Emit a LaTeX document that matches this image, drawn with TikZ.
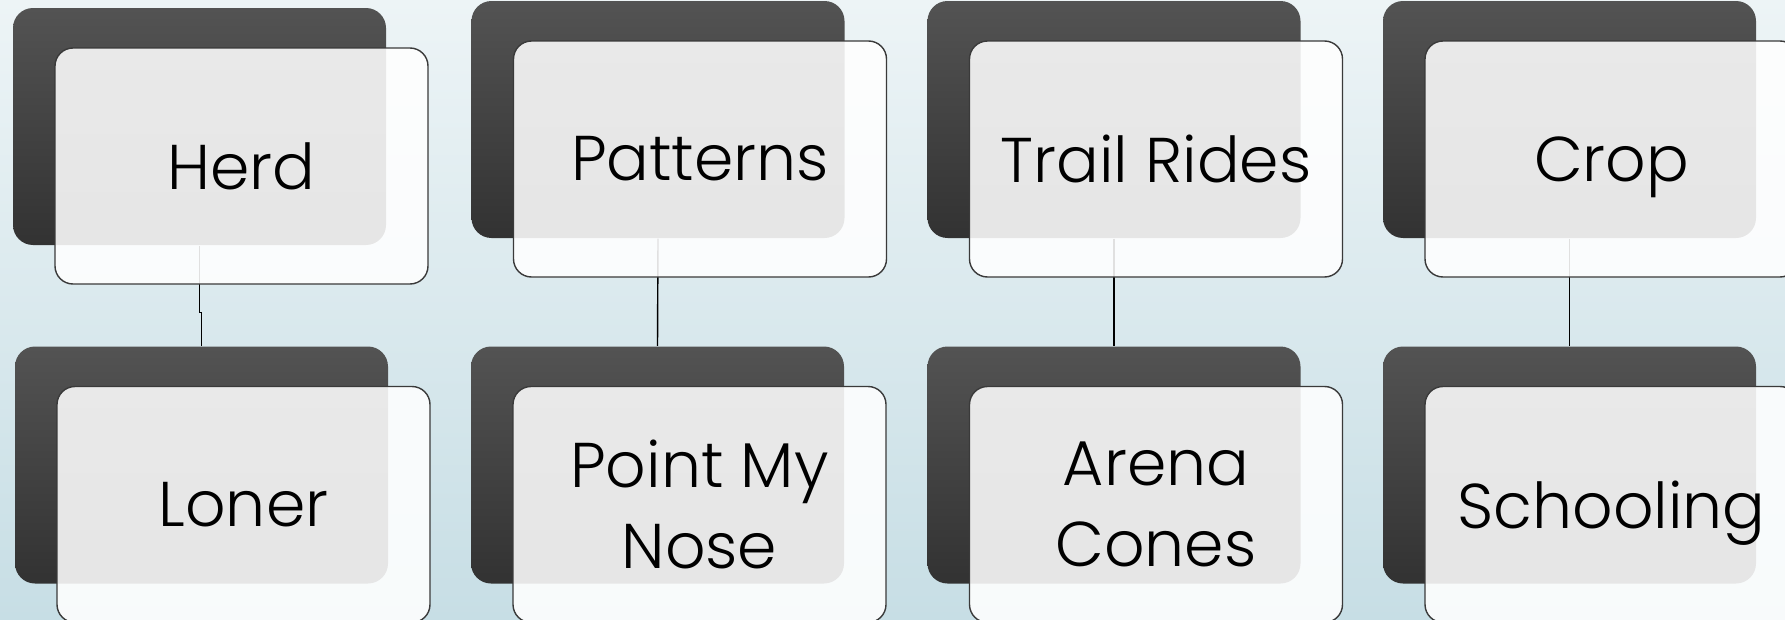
\documentclass[tikz,border=0pt]{standalone}
\usepackage{fontspec}
\setmainfont{Poppins}[UprightFont=* Light]
\usepackage{xcolor}
\definecolor{bgTop}{RGB}{237,244,246}
\definecolor{bgBottom}{RGB}{199,222,229}
\definecolor{cardTop}{RGB}{83,83,83}
\definecolor{cardBottom}{RGB}{50,50,50}
\definecolor{cardEdge}{RGB}{58,58,58}

\begin{document}
\begin{tikzpicture}[x=0.1mm, y=0.1mm,
		backCard/.style={rounded corners=0.2cm, minimum width=3.73cm, minimum height=2.37cm, inner sep=0pt, top color=cardTop, bottom color=cardBottom},
		frontCard/.style={rounded corners=0.18cm, draw=cardEdge, line width=0.4pt, fill=white, fill opacity=0.88, text opacity=1, minimum width=3.73cm, minimum height=2.36cm, inner sep=0pt, align=center, font=\fontsize{18}{23}\selectfont},
		link/.style={draw=black, line width=0.4pt}]
			% Background
			\useasboundingbox (0,0) rectangle (1785,-620);
			\shade[top color=bgTop, bottom color=bgBottom] (0,0) rectangle (1785,-620);
			\clip (0,0) rectangle (1785,-620);

			% Dark cards at the back
			\node[backCard] (herdBack) at (199.5,-126.5) {};
			\node[backCard] (patternsBack) at (658,-119.5) {};
			\node[backCard] (trailBack) at (1114,-119.5) {};
			\node[backCard] (cropBack) at (1569.5,-119.5) {};
			\node[backCard] (lonerBack) at (201.5,-465) {};
			\node[backCard] (noseBack) at (657.5,-465) {};
			\node[backCard] (arenaBack) at (1114,-465) {};
			\node[backCard] (schoolingBack) at (1569.5,-465) {};

			% Links between the rows
			\draw[link] (herdBack.south) -- ++(0,-67) -| (lonerBack.north);
			\foreach \a/\b in {patternsBack/noseBack, trailBack/arenaBack, cropBack/schoolingBack}
			\draw[link] (\a.south) -- (\b.north);

			% Light cards with the labels
			\node[frontCard] (herd) at ([shift={(42,-39.5)}]herdBack) {Herd};
			\node[frontCard] (patterns) at ([shift={(42,-39.5)}]patternsBack) {Patterns};
			\node[frontCard] (trail) at ([shift={(42,-39.5)}]trailBack) {Trail Rides};
			\node[frontCard, text depth=0pt] (crop) at ([shift={(42,-39.5)}]cropBack) {Crop};
			\node[frontCard] (loner) at ([shift={(42,-39.5)}]lonerBack) {Loner};
			\node[frontCard] (nose) at ([shift={(42,-39.5)}]noseBack) {Point My\\Nose};
			\node[frontCard] (arena) at ([shift={(42,-39.5)}]arenaBack) {Arena\\Cones};
			\node[frontCard, text depth=0pt] (schooling) at ([shift={(42,-39.5)}]schoolingBack) {Schooling};
		\end{tikzpicture}
\end{document}
